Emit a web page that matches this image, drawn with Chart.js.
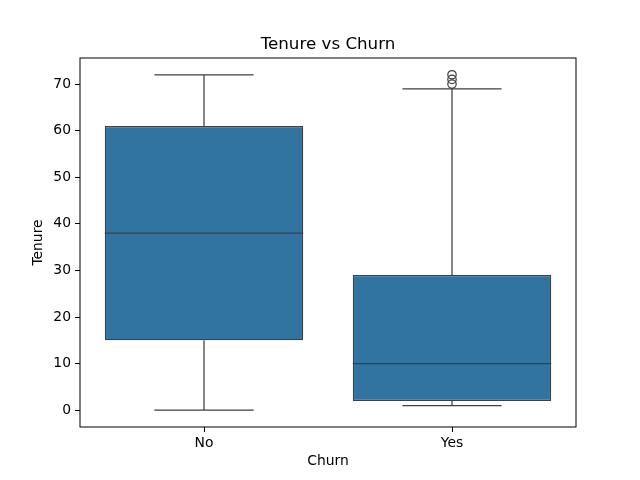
<!DOCTYPE html>
<html>
<head>
<meta charset="utf-8">
<script src="https://cdn.jsdelivr.net/npm/chart.js@4"></script>
<style>
html,body{margin:0;padding:0;background:#fff;}
#wrap{width:640px;height:480px;}
</style>
</head>
<body>
<div id="wrap"><canvas id="c" width="640" height="480"></canvas></div>
<script>
const categories = ["No", "Yes"];
const q1 = [15, 2];
const median = [38, 10];
const q3 = [61, 29];
const whiskerLow = [0, 1];
const whiskerHigh = [72, 69];
const outlierCategory = ["Yes", "Yes", "Yes"];
const outlierValues = [70, 71, 72];
const yTicks = [0, 10, 20, 30, 40, 50, 60, 70];
const chartTitle = "Tenure vs Churn";

const boxColor = "#3274a1";
const lineColor = "#3f3f3f";
const FONT = "DejaVu Sans";

const boxPlugin = {
  id: "boxExtras",
  beforeDatasetsDraw(chart) {
    const ctx = chart.ctx;
    const xs = chart.scales.x, ys = chart.scales.y;
    const meta = chart.getDatasetMeta(0);
    ctx.save();
    ctx.strokeStyle = lineColor;
    ctx.lineWidth = 1.25;
    categories.forEach((c, i) => {
      const cx = xs.getPixelForValue(i);
      const bw = meta.data[i].width;
      const capHalf = bw / 4;
      const yLo = ys.getPixelForValue(whiskerLow[i]);
      const yQ1 = ys.getPixelForValue(q1[i]);
      const yQ3 = ys.getPixelForValue(q3[i]);
      const yHi = ys.getPixelForValue(whiskerHigh[i]);
      ctx.beginPath();
      ctx.moveTo(cx, yQ1); ctx.lineTo(cx, yLo);
      ctx.moveTo(cx - capHalf, yLo); ctx.lineTo(cx + capHalf, yLo);
      ctx.moveTo(cx, yQ3); ctx.lineTo(cx, yHi);
      ctx.moveTo(cx - capHalf, yHi); ctx.lineTo(cx + capHalf, yHi);
      ctx.stroke();
    });
    ctx.restore();
  },
  afterDatasetsDraw(chart) {
    const ctx = chart.ctx;
    const xs = chart.scales.x, ys = chart.scales.y;
    const meta = chart.getDatasetMeta(0);
    ctx.save();
    ctx.strokeStyle = lineColor;
    ctx.lineWidth = 1.25;
    categories.forEach((c, i) => {
      const cx = xs.getPixelForValue(i);
      const bw = meta.data[i].width;
      const ym = ys.getPixelForValue(median[i]);
      ctx.beginPath();
      ctx.moveTo(cx - bw / 2, ym); ctx.lineTo(cx + bw / 2, ym);
      ctx.stroke();
    });
    const a = chart.chartArea;
    ctx.strokeStyle = "#000";
    ctx.lineWidth = 1;
    ctx.strokeRect(a.left, a.top, a.right - a.left, a.bottom - a.top);
    ctx.fillStyle = "#000";
    ctx.font = "16.7px '" + FONT + "'";
    ctx.textAlign = "center";
    ctx.textBaseline = "middle";
    ctx.fillText(chartTitle, (a.left + a.right) / 2, a.top - 13);
    ctx.restore();
  }
};

new Chart(document.getElementById("c"), {
  type: "bar",
  data: {
    labels: categories,
    datasets: [
      {
        type: "bar",
        data: categories.map((c, i) => [q1[i], q3[i]]),
        backgroundColor: boxColor,
        borderColor: lineColor,
        borderWidth: 1.25,
        borderSkipped: false,
        barPercentage: 0.8,
        categoryPercentage: 1.0
      },
      {
        type: "scatter",
        data: outlierValues.map((v, i) => ({ x: outlierCategory[i], y: v })),
        showLine: false,
        pointStyle: "circle",
        pointRadius: 4.2,
        backgroundColor: "rgba(0,0,0,0)",
        borderColor: lineColor,
        borderWidth: 1.25
      }
    ]
  },
  options: {
    responsive: false,
    animation: false,
    devicePixelRatio: 1,
    layout: { padding: { left: 0, right: 64, top: 58, bottom: 0 } },
    plugins: {
      legend: { display: false },
      tooltip: { enabled: false },
      title: { display: false }
    },
    scales: {
      x: {
        type: "category",
        offset: true,
        grid: { display: true, offset: false, drawOnChartArea: false, drawTicks: true, tickLength: 5, color: "#000" },
        border: { display: false },
        ticks: { color: "#000", font: { family: FONT, size: 13.9 }, padding: 3 },
        title: { display: true, text: "Churn", color: "#000", font: { family: FONT, size: 13.9 }, padding: { top: 0, bottom: 10 } },
        afterFit(s) { s.height = 53; }
      },
      y: {
        type: "linear",
        min: -3.6,
        max: 75.6,
        grid: { display: true, drawOnChartArea: false, drawTicks: true, tickLength: 5, color: "#000" },
        border: { display: false },
        ticks: { color: "#000", font: { family: FONT, size: 13.9 }, padding: 4 },
        afterBuildTicks(s) { s.ticks = yTicks.map(v => ({ value: v })); },
        title: { display: true, text: "Tenure", color: "#000", font: { family: FONT, size: 13.9 }, padding: { top: 30, bottom: 0 } },
        afterFit(s) { s.width = 80; }
      }
    }
  },
  plugins: [boxPlugin]
});
</script>
</body>
</html>
